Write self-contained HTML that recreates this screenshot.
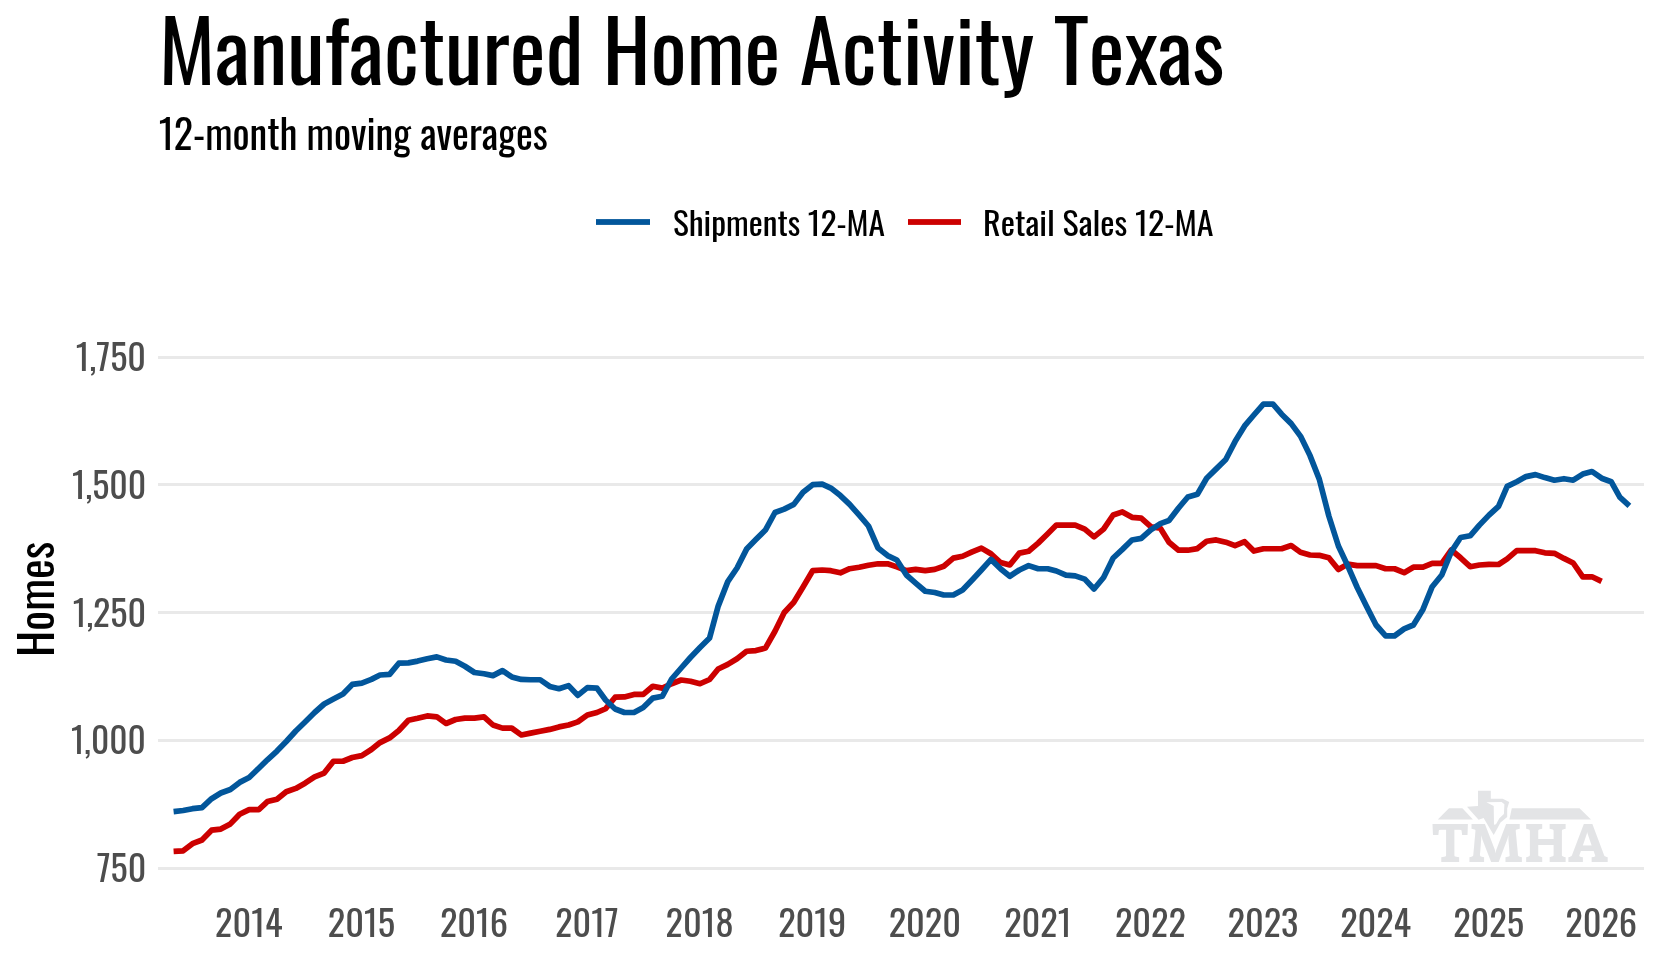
<!DOCTYPE html>
<html><head><meta charset="utf-8"><title>Manufactured Home Activity Texas</title><style>
html,body{margin:0;padding:0;background:#fff;overflow:hidden;}
svg{display:block;will-change:transform;}
text{font-family:"Oswald","Liberation Sans Narrow","Liberation Sans",sans-serif;font-kerning:none;}
</style></head><body>
<svg width="1660" height="960" viewBox="0 0 1660 960">
<rect width="1660" height="960" fill="#fff"/>
<text x="158.9" y="85" font-size="85.1" fill="#000" textLength="1065.5" lengthAdjust="spacingAndGlyphs">Manufactured Home Activity Texas</text>
<text x="158.65" y="150" font-size="40.15" fill="#000" textLength="389.2" lengthAdjust="spacingAndGlyphs">12-month moving averages</text>
<rect x="596" y="219.1" width="54" height="5.8" fill="#02569B"/>
<text x="673.0" y="236" font-size="33" fill="#000" textLength="211.9" lengthAdjust="spacingAndGlyphs">Shipments 12-MA</text>
<rect x="908" y="219.1" width="53" height="5.8" fill="#CC0000"/>
<text x="983.03" y="236" font-size="33" fill="#000" textLength="230.55" lengthAdjust="spacingAndGlyphs">Retail Sales 12-MA</text>
<g fill="#E9E9E9"><rect x="158" width="1486" y="867.0" height="3"/><rect x="158" width="1486" y="739.0" height="3"/><rect x="158" width="1486" y="611.0" height="3"/><rect x="158" width="1486" y="483.0" height="3"/><rect x="158" width="1486" y="356.0" height="3"/></g>
<g id="logo" fill="#E3E4E6">
<polygon points="1449.0,808.3 1462.4,808.3 1472.9,819.6 1437.8,819.6"/>
<polygon points="1511.8,808.3 1579.5,808.3 1591.0,819.6 1509.4,819.6"/>
<text x="1432.5" y="862.3" style="font-family:'Enriqueta','Liberation Serif',serif;font-weight:bold" font-size="52.1" textLength="175.3" lengthAdjust="spacingAndGlyphs">TMHA</text>
<polygon stroke="#fff" stroke-width="3" paint-order="stroke" stroke-linejoin="round" points="1478,790.8 1490.8,790.8 1490.8,798.7 1502.7,798.7 1509.2,802 1507.2,808.5 1507.2,816.9 1500.5,822.6 1493.7,834.9 1483.6,818.1 1478.6,819.7 1467,806.8 1478,806"/>
<polygon fill="#fff" points="1486.4,802.3 1501.6,802.0 1504.4,804.3 1503.9,814.1 1499.4,818.3 1496,824.2 1494,824.8 1493.7,806.0"/>
</g>

<g font-size="34.8" fill="#4D4D4D"><text x="96.71" y="882.0" textLength="49.50" lengthAdjust="spacingAndGlyphs">750</text><text x="70.97" y="753.8" textLength="74.94" lengthAdjust="spacingAndGlyphs">1,000</text><text x="72.76" y="626.9" textLength="73.41" lengthAdjust="spacingAndGlyphs">1,250</text><text x="71.96" y="498.9" textLength="74.28" lengthAdjust="spacingAndGlyphs">1,500</text><text x="75.86" y="370.8" textLength="70.10" lengthAdjust="spacingAndGlyphs">1,750</text></g>
<g font-size="35.5" fill="#4D4D4D" text-anchor="middle"><text x="248.80" y="937" textLength="67.41" lengthAdjust="spacingAndGlyphs">2014</text><text x="361.42" y="937" textLength="67.15" lengthAdjust="spacingAndGlyphs">2015</text><text x="474.05" y="937" textLength="68.14" lengthAdjust="spacingAndGlyphs">2016</text><text x="586.98" y="937" textLength="63.41" lengthAdjust="spacingAndGlyphs">2017</text><text x="699.60" y="937" textLength="68.00" lengthAdjust="spacingAndGlyphs">2018</text><text x="812.22" y="937" textLength="68.11" lengthAdjust="spacingAndGlyphs">2019</text><text x="924.85" y="937" textLength="72.28" lengthAdjust="spacingAndGlyphs">2020</text><text x="1037.78" y="937" textLength="67.23" lengthAdjust="spacingAndGlyphs">2021</text><text x="1150.40" y="937" textLength="70.86" lengthAdjust="spacingAndGlyphs">2022</text><text x="1263.02" y="937" textLength="70.83" lengthAdjust="spacingAndGlyphs">2023</text><text x="1375.65" y="937" textLength="70.79" lengthAdjust="spacingAndGlyphs">2024</text><text x="1488.58" y="937" textLength="70.79" lengthAdjust="spacingAndGlyphs">2025</text><text x="1601.20" y="937" textLength="71.77" lengthAdjust="spacingAndGlyphs">2026</text></g>
<text transform="translate(54,656.9) rotate(-90)" font-size="46.2" fill="#000" textLength="115.1" lengthAdjust="spacingAndGlyphs">Homes</text>
<g fill="none" stroke-width="5.7" stroke-linejoin="round" stroke-linecap="butt"><path d="M173.60,851.40 L183.17,850.80 L192.43,843.70 L201.99,840.00 L211.56,830.20 L220.81,829.10 L230.38,823.90 L239.63,814.20 L249.20,809.60 L258.77,809.60 L267.40,801.60 L276.97,799.30 L286.23,791.80 L295.79,788.40 L305.05,783.20 L314.61,776.90 L324.18,773.10 L333.44,761.25 L343.00,761.25 L352.26,757.50 L361.82,755.60 L371.39,749.50 L380.03,742.60 L389.59,737.90 L398.85,730.50 L408.41,720.20 L417.67,718.30 L427.24,715.90 L436.80,716.80 L446.06,723.50 L455.62,719.50 L464.88,718.10 L474.45,718.10 L484.01,716.90 L492.96,725.00 L502.52,728.10 L511.78,728.10 L521.35,735.00 L530.60,733.10 L540.17,731.25 L549.73,729.40 L558.99,726.90 L568.56,725.00 L577.81,721.90 L587.38,715.00 L596.94,712.50 L605.58,708.75 L615.15,697.20 L624.40,696.90 L633.97,694.40 L643.23,694.40 L652.79,686.25 L662.36,688.10 L671.61,683.75 L681.18,680.00 L690.43,681.25 L700.00,683.75 L709.57,679.50 L718.20,669.00 L727.77,664.40 L737.03,658.75 L746.59,651.25 L755.85,650.60 L765.41,648.10 L774.98,631.25 L784.24,612.50 L793.80,602.20 L803.06,587.00 L812.62,570.70 L822.19,570.00 L830.83,570.70 L840.39,572.80 L849.65,568.70 L859.21,567.30 L868.47,565.30 L878.04,563.80 L887.60,563.75 L896.86,566.90 L906.42,570.60 L915.68,569.40 L925.25,570.60 L934.81,569.40 L943.76,566.25 L953.32,558.10 L962.58,556.25 L972.15,551.90 L981.40,548.10 L990.97,553.75 L1000.53,562.50 L1009.79,565.00 L1019.36,553.10 L1028.61,551.25 L1038.18,543.10 L1047.74,533.75 L1056.38,525.10 L1065.95,525.20 L1075.20,525.20 L1084.77,529.10 L1094.03,536.90 L1103.59,529.10 L1113.16,515.00 L1122.41,511.90 L1131.98,517.30 L1141.23,518.10 L1150.80,526.70 L1160.37,528.30 L1169.00,542.30 L1178.57,550.20 L1187.83,550.20 L1197.39,548.60 L1206.65,541.20 L1216.21,539.90 L1225.78,542.20 L1235.04,545.70 L1244.60,541.70 L1253.86,551.10 L1263.42,548.75 L1272.99,548.75 L1281.63,548.75 L1291.19,545.50 L1300.45,552.30 L1310.01,555.00 L1319.27,555.30 L1328.84,557.80 L1338.40,569.50 L1347.66,564.10 L1357.22,565.60 L1366.48,565.60 L1376.05,565.60 L1385.61,568.75 L1394.56,568.75 L1404.12,572.70 L1413.38,567.20 L1422.95,567.20 L1432.20,563.30 L1441.77,563.30 L1451.33,550.00 L1460.59,557.80 L1470.16,566.70 L1479.41,565.00 L1488.98,564.30 L1498.54,564.50 L1507.18,558.90 L1516.75,550.70 L1526.00,550.70 L1535.57,550.70 L1544.83,552.80 L1554.39,553.30 L1563.96,558.40 L1573.21,563.00 L1582.78,576.80 L1592.03,576.80 L1601.60,581.40" stroke="#CC0000"/><path d="M173.60,811.60 L183.17,810.50 L192.43,808.70 L201.99,807.60 L211.56,798.70 L220.81,793.00 L230.38,789.50 L239.63,782.40 L249.20,777.50 L258.77,768.20 L267.40,759.80 L276.97,751.10 L286.23,741.50 L295.79,731.00 L305.05,722.00 L314.61,712.50 L324.18,704.00 L333.44,699.00 L343.00,694.00 L352.26,684.40 L361.82,683.10 L371.39,679.40 L380.03,675.00 L389.59,674.40 L398.85,663.20 L408.41,662.90 L417.67,661.10 L427.24,658.70 L436.80,656.90 L446.06,660.00 L455.62,661.25 L464.88,666.25 L474.45,672.50 L484.01,673.75 L492.96,675.60 L502.52,670.60 L511.78,676.90 L521.35,679.40 L530.60,679.75 L540.17,679.75 L549.73,686.40 L558.99,688.75 L568.56,685.60 L577.81,695.40 L587.38,687.60 L596.94,688.10 L605.58,700.00 L615.15,709.00 L624.40,712.50 L633.97,712.50 L643.23,707.50 L652.79,698.10 L662.36,696.25 L671.61,679.00 L681.18,668.00 L690.43,657.50 L700.00,647.50 L709.57,638.00 L718.20,606.10 L727.77,581.60 L737.03,568.00 L746.59,549.10 L755.85,539.60 L765.41,530.10 L774.98,512.50 L784.24,509.10 L793.80,504.40 L803.06,492.20 L812.62,484.70 L822.19,484.10 L830.83,488.10 L840.39,495.60 L849.65,504.40 L859.21,515.20 L868.47,526.00 L878.04,548.00 L887.60,555.60 L896.86,560.00 L906.42,575.00 L915.68,583.10 L925.25,591.25 L934.81,592.50 L943.76,595.00 L953.32,595.00 L962.58,590.00 L972.15,580.00 L981.40,570.00 L990.97,559.40 L1000.53,568.75 L1009.79,576.25 L1019.36,570.00 L1028.61,565.60 L1038.18,568.75 L1047.74,568.75 L1056.38,571.00 L1065.95,575.20 L1075.20,575.90 L1084.77,579.10 L1094.03,589.00 L1103.59,577.50 L1113.16,558.00 L1122.41,549.40 L1131.98,540.00 L1141.23,538.40 L1150.80,529.80 L1160.37,523.60 L1169.00,520.50 L1178.57,508.00 L1187.83,497.00 L1197.39,494.30 L1206.65,478.30 L1216.21,468.90 L1225.78,459.50 L1235.04,441.60 L1244.60,425.90 L1253.86,415.00 L1263.42,404.10 L1272.99,404.10 L1281.63,414.20 L1291.19,423.60 L1300.45,436.10 L1310.01,455.60 L1319.27,479.10 L1328.84,516.00 L1338.40,546.00 L1347.66,565.60 L1357.22,587.50 L1366.48,606.25 L1376.05,625.00 L1385.61,635.90 L1394.56,635.90 L1404.12,628.90 L1413.38,625.00 L1422.95,609.40 L1432.20,586.70 L1441.77,575.00 L1451.33,551.60 L1460.59,537.50 L1470.16,535.80 L1479.41,525.10 L1488.98,515.10 L1498.54,506.30 L1507.18,486.40 L1516.75,481.70 L1526.00,476.60 L1535.57,474.60 L1544.83,477.60 L1554.39,480.20 L1563.96,478.70 L1573.21,480.20 L1582.78,474.10 L1592.03,471.50 L1601.60,478.20 L1611.17,481.70 L1619.80,497.10 L1629.37,505.80" stroke="#02569B"/></g>
</svg>
</body></html>
